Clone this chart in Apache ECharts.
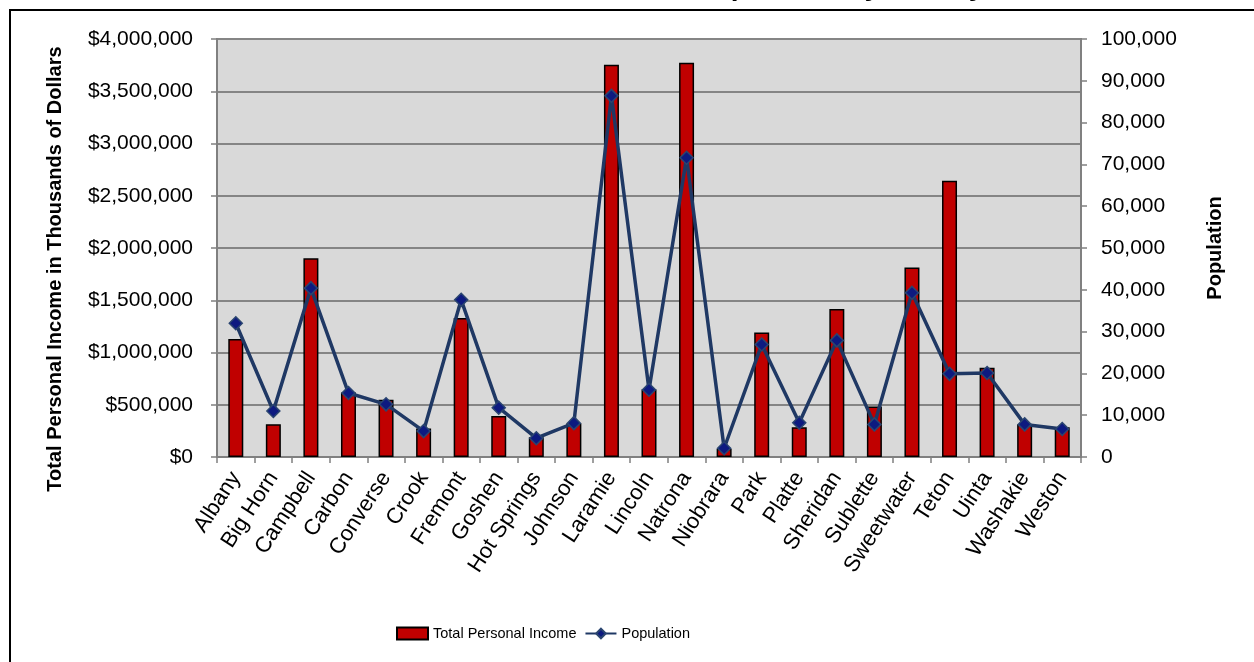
<!DOCTYPE html>
<html>
<head>
<meta charset="utf-8">
<script src="https://cdn.jsdelivr.net/npm/echarts@6/dist/echarts.min.js"></script>
<style>
html,body{margin:0;padding:0;background:#fff;}
#chart{width:1254px;height:662px;}
</style>
</head>
<body>
<div id="chart"></div>
<script>
const counties = ["Albany","Big Horn","Campbell","Carbon","Converse","Crook","Fremont","Goshen","Hot Springs","Johnson","Laramie","Lincoln","Natrona","Niobrara","Park","Platte","Sheridan","Sublette","Sweetwater","Teton","Uinta","Washakie","Weston"];
const totalPersonalIncome = [1130000,314000,1902000,617000,547000,272000,1330000,393000,190000,323000,3754000,646000,3773000,80000,1192000,285000,1417000,483000,1813000,2644000,854000,314000,285000];
const population = [32000,11000,40400,15300,12600,6200,37600,11800,4500,8100,86400,16100,71600,2100,26900,8200,27900,7800,39300,19900,20100,7800,6700];
const incomeTicks = {min:0, max:4000000, interval:500000};
const popTicks = {min:0, max:100000, interval:10000};
const titleText = "Total Personal Income and Population by County, 2008";

const chart = echarts.init(document.getElementById('chart'), null, {renderer:'canvas'});
const font = '"Liberation Sans", Arial, sans-serif';
const fmtMoney = v => '$' + v.toLocaleString('en-US');
const fmtNum = v => v.toLocaleString('en-US');

chart.setOption({
  animation:false,
  backgroundColor:'#fff',
  textStyle:{fontFamily:font},
  title:{
    text:titleText,
    left:328, top:-32,
    textStyle:{fontFamily:font, fontSize:28, fontWeight:'bold', color:'#000'}
  },
  graphic:[{
    type:'rect', z:-10, silent:true,
    shape:{x:10, y:10, width:1400, height:800},
    style:{fill:'none', stroke:'#000', lineWidth:2}
  }],
  grid:{
    left:217, right:173, top:39, bottom:205,
    show:true, backgroundColor:'#D9D9D9', borderColor:'#111', borderWidth:1.5
  },
  legend:{
    left:396, top:626, padding:0,
    itemWidth:31, itemHeight:12, itemGap:8,
    textStyle:{fontFamily:font, fontSize:14.5, color:'#000'},
    data:[{name:'Total Personal Income', icon:'rect'}, {name:'Population'}]
  },
  xAxis:{
    type:'category', data:counties,
    axisLine:{lineStyle:{color:'#808080', width:2}},
    axisTick:{show:true, alignWithLabel:false, length:6, lineStyle:{color:'#808080', width:1.5}},
    axisLabel:{rotate:57, fontSize:22, color:'#000', margin:17, interval:0, fontFamily:font}
  },
  yAxis:[{
    type:'value', min:incomeTicks.min, max:incomeTicks.max, interval:incomeTicks.interval,
    name:'Total Personal Income in Thousands of Dollars',
    nameLocation:'middle', nameGap:152,
    nameTextStyle:{fontSize:20, fontWeight:'bold', color:'#000', fontFamily:font, padding:[0,42,0,0]},
    axisLine:{show:true, lineStyle:{color:'#808080', width:2}},
    axisTick:{show:true, length:6, lineStyle:{color:'#808080', width:1.5}},
    axisLabel:{formatter:fmtMoney, fontSize:21, color:'#000', margin:24, fontFamily:font},
    splitLine:{show:true, lineStyle:{color:'#858585', width:2}}
  },{
    type:'value', position:'right', min:popTicks.min, max:popTicks.max, interval:popTicks.interval,
    name:'Population',
    nameLocation:'middle', nameGap:124,
    nameTextStyle:{fontSize:20, fontWeight:'bold', color:'#000', fontFamily:font},
    axisLine:{show:true, lineStyle:{color:'#808080', width:2}},
    axisTick:{show:true, length:6, lineStyle:{color:'#808080', width:1.5}},
    axisLabel:{formatter:fmtNum, fontSize:21, color:'#000', margin:20, fontFamily:font},
    splitLine:{show:false}
  }],
  series:[{
    name:'Total Personal Income', type:'bar', yAxisIndex:0,
    data:totalPersonalIncome, barWidth:15,
    itemStyle:{color:'#C00000', borderColor:'#000', borderWidth:1.5}
  },{
    name:'Population', type:'line', yAxisIndex:1,
    data:population,
    symbol:'diamond', symbolSize:13,
    lineStyle:{color:'#1F3864', width:3.5},
    itemStyle:{color:'#0D1A80', borderColor:'#2A4570', borderWidth:1.5}
  }]
});
</script>
</body>
</html>
